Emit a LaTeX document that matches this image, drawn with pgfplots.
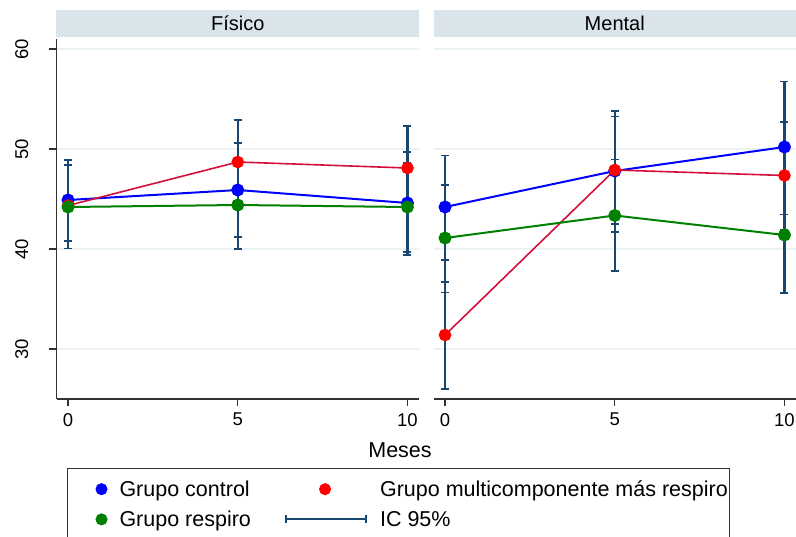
\documentclass[border=0pt]{standalone}
\usepackage{pgfplots}
\pgfplotsset{compat=1.18}
\usepackage{pgfplotstable}
\usepackage{fontspec}
\setmainfont{Liberation Sans}
\definecolor{navyc}{RGB}{26,71,111}
\definecolor{stripc}{RGB}{217,229,234}
\definecolor{gridc}{RGB}{234,242,243}
\definecolor{axisc}{RGB}{50,50,50}
\definecolor{greenc}{RGB}{0,128,0}
\definecolor{redline}{RGB}{212,15,60}

% Fisico
\pgfplotstableread{
x y lo hi
0 44.9 40.8 48.9
5 45.9 41.2 50.6
10 44.6 39.4 49.7
}\FisBlue
\pgfplotstableread{
x y lo hi
0 44.35 40.05 48.4
5 48.7 44.5 52.9
10 48.1 43.9 52.3
}\FisRed
\pgfplotstableread{
x y lo hi
0 44.2 40.05 48.4
5 44.4 40.0 48.8
10 44.2 39.7 48.6
}\FisGreen
% Mental
\pgfplotstableread{
x y lo hi
0 44.2 38.9 49.35
5 47.8 41.7 53.8
10 50.2 43.45 56.75
}\MenBlue
\pgfplotstableread{
x y lo hi
0 31.4 26.0 36.7
5 47.9 42.5 53.25
10 47.35 41.9 52.7
}\MenRed
\pgfplotstableread{
x y lo hi
0 41.1 35.65 46.4
5 43.35 37.8 48.95
10 41.4 35.6 47.2
}\MenGreen

\pgfplotsset{
  panel/.style={
    scale only axis, width=362.5bp, height=360bp,
    xmin=-0.34, xmax=10.34, ymin=25, ymax=61,
    xtick={0,5,10}, ytick={30,40,50,60},
    axis x line*=bottom, axis y line*=left,
    tick align=outside, major tick length=7bp,
    ymajorgrids, grid style={gridc, line width=1.2bp},
    major tick style={axisc, line width=1.2bp},
    axis line style={axisc, line width=1.2bp, -},
    tick label style={font=\fontsize{18.5bp}{20bp}\selectfont},
    /pgf/number format/assume math mode=true,
    xticklabel style={anchor=north, inner sep=0pt},
    xticklabel shift=7bp,
    every axis title/.style={at={(0.5,1)}, anchor=south, yshift=2bp, fill=stripc,
      minimum width=362.5bp, minimum height=27bp, inner sep=0pt,
      font=\fontsize{20bp}{22bp}\selectfont},
    clip=false,
  },
  ci/.style={draw=none, mark=none, forget plot,
    error bars/.cd, y dir=both, y explicit,
    error bar style={draw=navyc, line width=2.2bp, solid},
    error mark options={rotate=90, draw=navyc, line width=1.8bp, mark size=4bp, solid}},
  ser/.style={line width=#1, mark=*, mark size=5.5bp, forget plot},
}

\newcommand{\cierr}[1]{\addplot[ci] table[x=x, y=y,
   y error plus expr=\thisrow{hi}-\thisrow{y},
   y error minus expr=\thisrow{y}-\thisrow{lo}] {#1};}

\begin{document}
\begin{tikzpicture}
\useasboundingbox (0bp,0bp) rectangle (796bp,-537bp);

\begin{axis}[panel, at={(56.5bp,-399bp)}, anchor=south west,
  title={Físico},
  yticklabel style={rotate=90, anchor=south, inner sep=0pt},
  yticklabel shift=21bp,
  legend columns=2,
  legend cell align=left,
  legend style={at={(0.029,-0.1917)}, anchor=north west,
    draw=axisc, line width=1bp, inner xsep=2bp, inner ysep=12bp,
    row sep=13bp, column sep=0bp,
    /tikz/every even column/.append style={column sep=34bp},
    nodes={inner sep=0pt, font=\fontsize{21.5bp}{24bp}\selectfont}},
]
\cierr{\FisBlue}
\cierr{\FisRed}
\cierr{\FisGreen}
\addplot[ser=2bp, blue, mark options={fill=blue, draw=blue}] table[x=x,y=y] {\FisBlue};
\addplot[ser=1.6bp, redline, mark options={fill=red, draw=red}] table[x=x,y=y] {\FisRed};
\addplot[ser=2bp, greenc, mark options={fill=greenc, draw=greenc}] table[x=x,y=y] {\FisGreen};

\addlegendimage{legend image code/.code={\path[draw=none,fill=none] (0bp,-8bp) rectangle (50bp,8bp); \fill[blue] (32bp,0bp) circle (5.5bp);}}
\addlegendentry{Grupo control}
\addlegendimage{legend image code/.code={\path[draw=none,fill=none] (0bp,-8bp) rectangle (94bp,8bp); \fill[red] (39bp,0bp) circle (5.5bp);}}
\addlegendentry{Grupo multicomponente más respiro}
\addlegendimage{legend image code/.code={\path[draw=none,fill=none] (0bp,-8bp) rectangle (50bp,8bp); \fill[greenc] (32bp,0bp) circle (5.5bp);}}
\addlegendentry{Grupo respiro}
\addlegendimage{legend image code/.code={\path[draw=none,fill=none] (0bp,-8bp) rectangle (94bp,8bp);
  \draw[navyc, line width=2.2bp] (0bp,0bp) -- (80bp,0bp);
  \draw[navyc, line width=1.8bp] (0bp,-4bp) -- (0bp,4bp) (80bp,-4bp) -- (80bp,4bp);}}
\addlegendentry{IC 95\%}
\end{axis}

\begin{axis}[panel, at={(433.5bp,-399bp)}, anchor=south west,
  title={Mental},
  y axis line style={draw=none},
  ytick style={draw=none},
  yticklabels={,,,},
]
\cierr{\MenBlue}
\cierr{\MenRed}
\cierr{\MenGreen}
\addplot[ser=2bp, blue, mark options={fill=blue, draw=blue}] table[x=x,y=y] {\MenBlue};
\addplot[ser=1.6bp, redline, mark options={fill=red, draw=red}] table[x=x,y=y] {\MenRed};
\addplot[ser=2bp, greenc, mark options={fill=greenc, draw=greenc}] table[x=x,y=y] {\MenGreen};
\end{axis}

\node[font=\fontsize{21.5bp}{24bp}\selectfont] at (400bp,-450bp) {Meses};
\end{tikzpicture}
\end{document}
